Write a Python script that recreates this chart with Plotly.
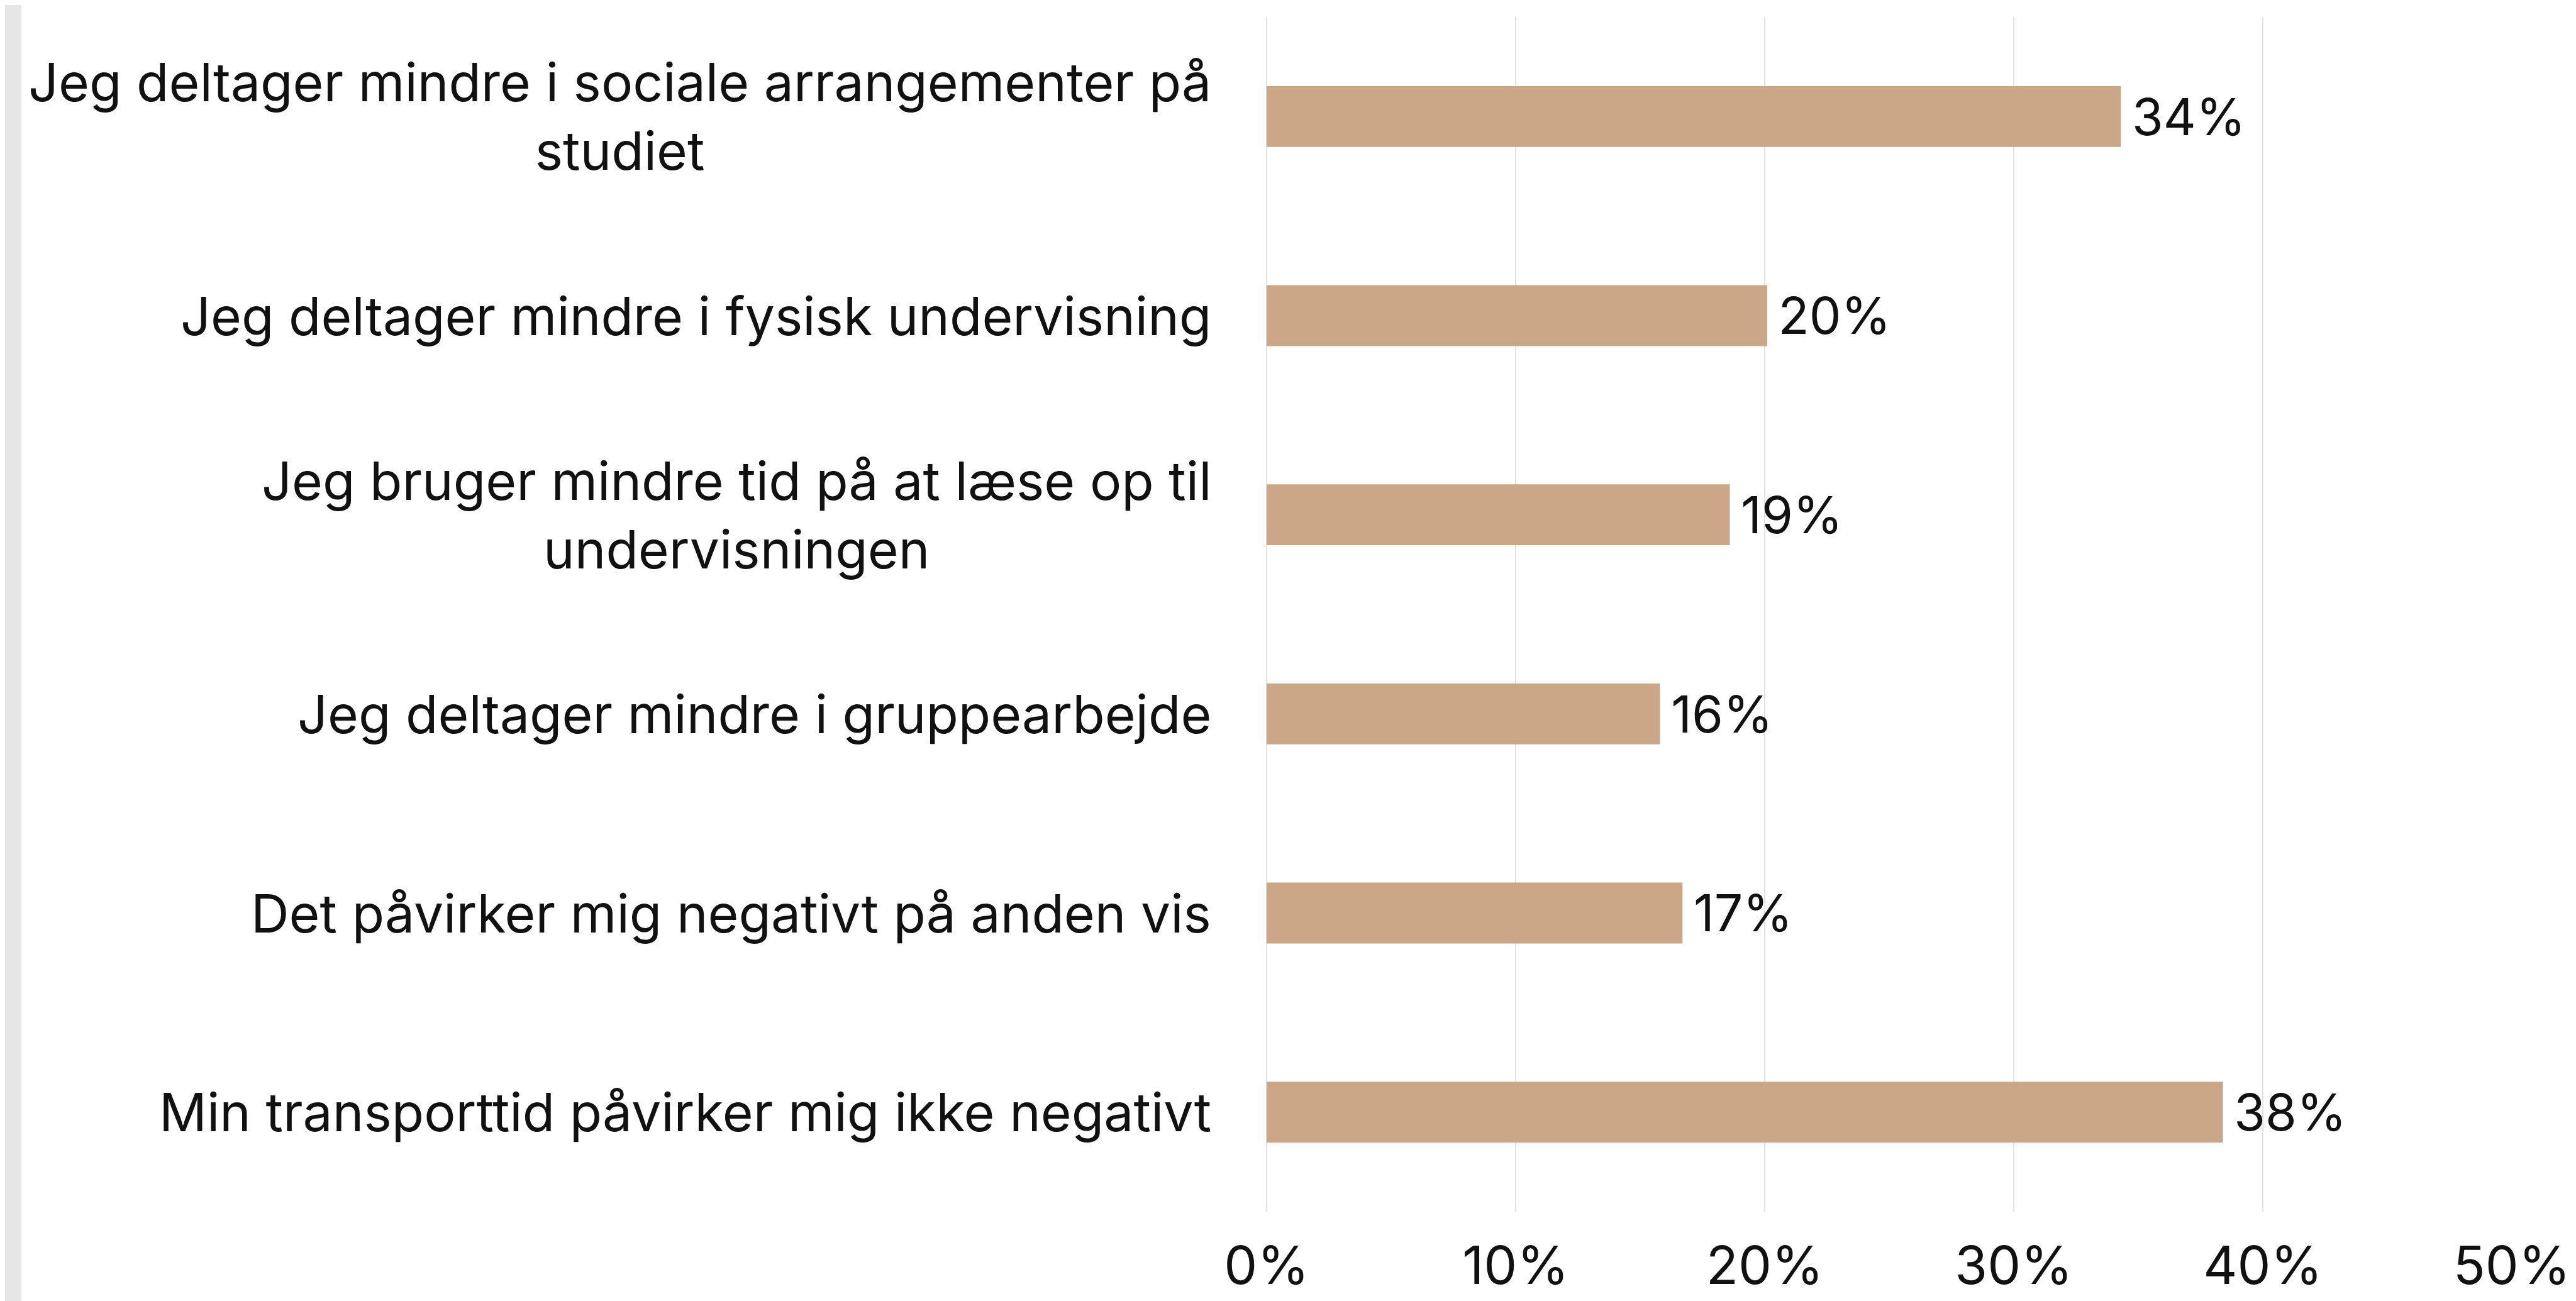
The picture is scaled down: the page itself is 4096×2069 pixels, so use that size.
import plotly.graph_objects as go

categories = [
    "Jeg deltager mindre i sociale arrangementer på<br>studiet",
    "Jeg deltager mindre i fysisk undervisning",
    "Jeg bruger mindre tid på at læse op til<br>undervisningen",
    "Jeg deltager mindre i gruppearbejde",
    "Det påvirker mig negativt på anden vis",
    "Min transporttid påvirker mig ikke negativt",
]
values = [0.343, 0.201, 0.186, 0.158, 0.167, 0.384]
tick_values = [0, 0.1, 0.2, 0.3, 0.4, 0.5]
tick_labels = ["0%", "10%", "20%", "30%", "40%", "50%"]

W, H = 4096, 2069
ML, MR, MT, MB = 2006, 110, 19, 150
FONT = "Inter"
FS = 84
TXT = "#111111"
BAR = "#CBA788"
GRID = "#e2e2e2"

fig = go.Figure()
fig.add_trace(go.Bar(
    x=values,
    y=categories,
    orientation="h",
    marker=dict(color=BAR, line=dict(width=0)),
    text=["\u202f" + f"{round(v*100)}%" for v in values],
    textposition="outside",
    textfont=dict(family=FONT, size=FS, color=TXT),
    cliponaxis=False,
    hoverinfo="skip",
))

for c in categories:
    fig.add_annotation(
        x=0, xref="paper", y=c, yref="y",
        text=c, showarrow=False,
        xanchor="right", yanchor="middle", align="center",
        xshift=-86,
        font=dict(family=FONT, size=FS, color=TXT),
    )

pw = W - ML - MR
ph = H - MT - MB
fig.add_shape(
    type="rect", xref="paper", yref="paper",
    x0=(0 - ML) / pw, x1=(26 - ML) / pw,
    y0=-MB / ph, y1=1 + MT / ph,
    fillcolor="#e6e6e6", line=dict(width=0), layer="below",
)

fig.update_layout(
    width=W, height=H,
    margin=dict(l=ML, r=MR, t=MT, b=MB, autoexpand=False),
    paper_bgcolor="white", plot_bgcolor="white",
    bargap=0.694,
    showlegend=False,
    xaxis=dict(
        range=[0, 0.5], tickvals=tick_values, ticktext=tick_labels,
        showgrid=True, gridcolor=GRID, gridwidth=2,
        zeroline=True, zerolinecolor=GRID, zerolinewidth=2,
        showline=False, ticks="", ticklabelstandoff=30,
        tickfont=dict(family=FONT, size=FS, color=TXT),
        fixedrange=True,
    ),
    yaxis=dict(
        categoryorder="array", categoryarray=categories,
        autorange="reversed", showticklabels=False,
        showgrid=False, zeroline=False, showline=False, ticks="",
        fixedrange=True,
    ),
)

fig.write_html("out.html")
